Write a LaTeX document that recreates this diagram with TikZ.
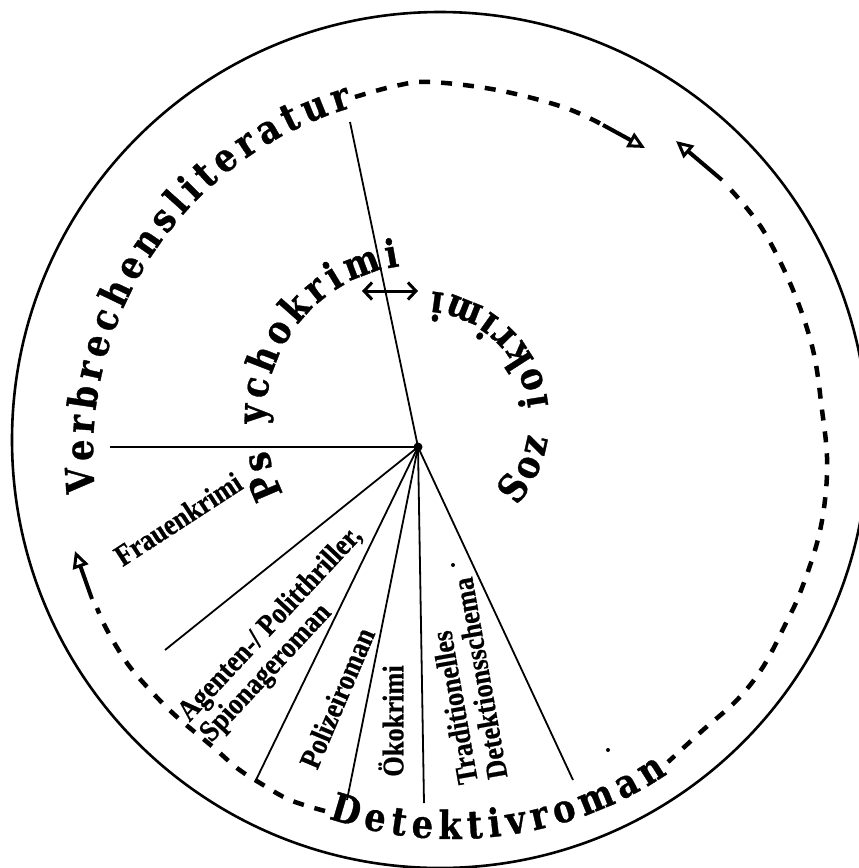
\documentclass[tikz,border=0pt]{standalone}
\usepackage{fontspec}
\newfontfamily\arcfont{DejaVu Serif}[FakeStretch=0.86, BoldFeatures={FakeBold=0.8}]
\newfontfamily\labfont{Liberation Serif}[FakeStretch=0.88, BoldFeatures={FakeBold=0.6}]
\usetikzlibrary{arrows.meta,calc,decorations.text}
\newcommand\arcstyle{\arcfont\bfseries\fontsize{39}{39}\selectfont}
% #1 cx, #2 cy, #3 radius, #4 start angle, #5 end angle, #6 text (pixel coordinates, y down)
\newcommand\putarctext[6]{%
  \path[decorate, decoration={text along path, text={|\arcstyle|#6}, text align={fit to path}}]
    plot[domain=0:1, samples=80] ({#1+#3*cos((#4)+((#5)-(#4))*\x)}, {#2-#3*sin((#4)+((#5)-(#4))*\x)});%
}
\tikzset{
  rim/.style={line width=2.6pt},
  spoke/.style={line width=1.8pt},
  dashline/.style={line width=4.5pt, dash pattern=on 11pt off 11pt},
  shaft/.style={line width=4pt, -{Triangle[open, length=17pt, width=16pt, line width=3pt]}},
  twohead/.style={line width=3pt, {Straight Barb[length=8pt,width=17pt]}-{Straight Barb[length=8pt,width=17pt]}},
  spokelabel/.style={inner sep=0pt, align=left, font=\labfont\bfseries\fontsize{30}{30}\selectfont},
}
\begin{document}
\begin{tikzpicture}[x=1pt,y=-1pt]
\useasboundingbox (0,0) rectangle (859,868);
\fill[white] (0,0) rectangle (859,868);
% outer circle
\coordinate (O) at (440,440);
\draw[rim] (O) circle[radius=428pt];
% hub and spokes
\coordinate (H) at (418,447);
\coordinate (sA) at (350,122);
\coordinate (sB) at (110,447);
\coordinate (sC) at (165,650);
\coordinate (sD) at (255,782);
\coordinate (sE) at (347,800);
\coordinate (sF) at (424,803);
\coordinate (sG) at (573,780);
\foreach \e in {sA,sB,sC,sD,sE,sF,sG} \draw[spoke] (H) -- (\e);
\fill (H) circle[radius=4.5pt];
% dashed outer ring
\draw[dashline] plot[smooth, tension=0.6] coordinates {(355,97) (395,86) (430,82) (497,90) (563,107) (603,125)};
\coordinate (t1s) at (603,125); \coordinate (t1e) at (645,148);
\draw[shaft] (t1s) -- (t1e);
\coordinate (t2s) at (722,180); \coordinate (t2e) at (676,141);
\draw[shaft] (t2s) -- (t2e);
\draw[dashline] plot[smooth, tension=0.6] coordinates {(731,190) (763,230) (793,290) (813,350) (822,410) (827,457) (825,500) (817,543) (800,593) (785,625) (763,667) (737,700) (703,730) (668,762)};
\draw[dashline] plot[smooth, tension=0.6] coordinates {(325,811) (290,800) (260,783) (237,768) (213,747) (177,717) (150,690) (127,663) (107,630) (97,608)};
\coordinate (t3s) at (92,599); \coordinate (t3e) at (75,551);
\draw[shaft] (t3s) -- (t3e);
% double arrow
\coordinate (bl) at (362,291); \coordinate (br) at (418,291);
\draw[twohead] (bl) -- (br);
% curved texts
\putarctext{453}{453}{360}{186.3}{106.2}{Verbrechensliteratur}
\putarctext{453}{453}{386}{251.2}{303.8}{Detektivroman}
\putarctext{420}{420}{155}{208.3}{191.1}{Ps}
\putarctext{420}{420}{155}{181.5}{97.4}{ychokrimi}
\putarctext{420}{420}{129}{-41.5}{-8.2}{Soz}
\putarctext{420}{420}{129}{6.4}{84.7}{iokrimi}
% spoke labels
\node[spokelabel, rotate=33] (frau) at (178,519) {Frauenkrimi};
\node[spokelabel, rotate=47] (agent) at (282,635) {Agenten-/ Politthriller,\\Spionageroman};
\node[spokelabel, rotate=67] (poliz) at (337,698) {Polizeiroman};
\node[spokelabel, rotate=90] (oeko) at (391,721) {Ökokrimi};
\node[spokelabel, rotate=100] (trad) at (465,681) {Traditionelles\\Detektionsschema};
% specks
\fill (453,565) circle[radius=2pt];
\fill (608,750) circle[radius=2pt];
\end{tikzpicture}
\end{document}
